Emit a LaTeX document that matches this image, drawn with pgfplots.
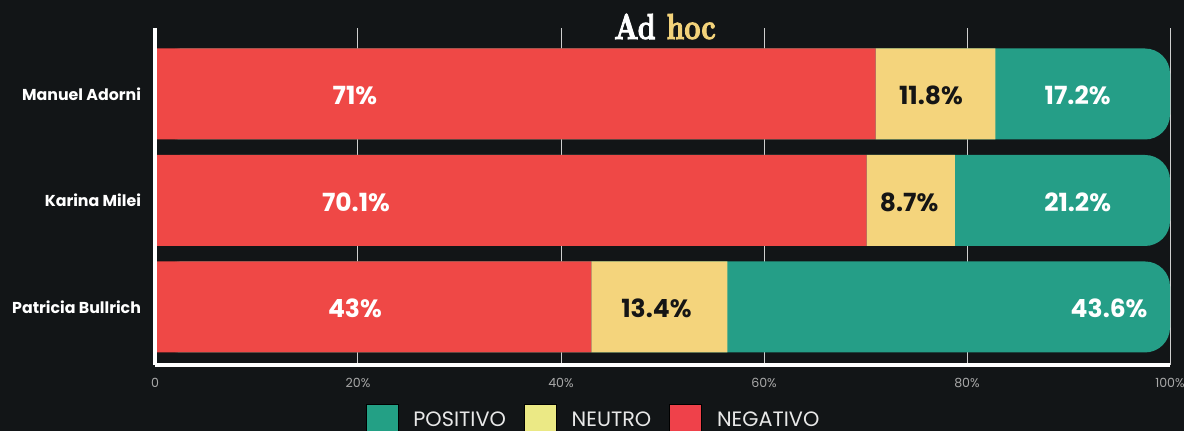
\documentclass[border=0pt]{standalone}
\usepackage{pgfplots}
\pgfplotsset{compat=1.18}
\usepackage{fontspec}
\setsansfont{Poppins}
\newfontfamily\titlefont[FakeBold=3]{lmroman10-bold.otf}
\usepackage{graphicx}
\definecolor{bg}{HTML}{121517}
\definecolor{neg}{HTML}{EF4846}
\definecolor{neu}{HTML}{F4D47C}
\definecolor{pos}{HTML}{259E87}
\definecolor{legpos}{HTML}{23A085}
\definecolor{legneu}{HTML}{EBE985}
\definecolor{legneg}{HTML}{EF414A}
\definecolor{gold}{HTML}{F2D27A}
\definecolor{tickgray}{HTML}{A8A8A8}
\definecolor{gridgray}{HTML}{CFCFCF}
\definecolor{darktext}{HTML}{151515}
\begin{document}
\begin{tikzpicture}
\fill[bg] (-77.5pt,-33pt) rectangle (514.5pt,182.5pt);
\pgfplotsset{
  common/.style={
    at={(0,0)}, anchor=south west, scale only axis,
    width=507.5pt, height=168.5pt,
    xmin=0, xmax=100, ymin=-0.545, ymax=2.62,
    bar width=45.5pt,
    axis x line*=bottom, axis y line*=left,
    axis line style={white, line width=2pt},
    major tick length=0pt,
  }
}
% background: grid, ticks, rounded positive bars, legend
\begin{axis}[common, xbar, bar shift=0pt,
   xmajorgrids, grid style={gridgray, line width=0.5pt},
   xtick={0,20,40,60,80,100},
   xticklabels={0,20\%,40\%,60\%,80\%,100\%},
   ytick={0,1,2},
   yticklabels={Patricia Bullrich, Karina Milei\hspace{2.5pt}, Manuel Adorni},
   xticklabel style={font=\sffamily\fontsize{6.3}{7}\selectfont, text=tickgray, yshift=-3pt},
   yticklabel style={font=\sffamily\bfseries\fontsize{7.9}{9}\selectfont, text=white, xshift=-3.5pt},
   legend columns=3,
   legend style={at={(0.433,-0.1157)}, anchor=north, draw=none, fill=none, inner sep=0pt,
      text=white!82!gray, font=\sffamily\fontsize{10.4}{11}\selectfont,
      /tikz/every odd column/.append style={column sep=5.5pt},
      /tikz/every even column/.append style={column sep=7pt}},
   legend image code/.code={\fill[#1] (0pt,-8pt) rectangle (16pt,8pt);},
]
\addplot[fill=pos, draw=none, rounded corners=12.5pt, forget plot] coordinates {(100,2) (100,1) (100,0)};
\addlegendimage{fill=legpos}
\addlegendentry{POSITIVO}
\addlegendimage{fill=legneu}
\addlegendentry{NEUTRO}
\addlegendimage{fill=legneg}
\addlegendentry{NEGATIVO}
\end{axis}
% foreground: stacked negative / neutral bars
\begin{axis}[common, xbar stacked, axis on top,
   xtick=\empty, ytick=\empty,
]
\addplot[fill=neg, draw=none] coordinates {(71,2) (70.1,1) (43,0)};
\addplot[fill=neu, draw=none] coordinates {(11.8,2) (8.7,1) (13.4,0)};
\addplot[fill=none, draw=none] coordinates {(17.2,2) (21.2,1) (43.6,0)};
\end{axis}
% value labels
\begin{axis}[common, hide axis,
   nodes near coords, point meta=explicit symbolic,
   every node near coord/.append style={anchor=center, yshift=-0.7pt,
      font=\sffamily\bfseries\fontsize{12.5}{14}\selectfont},
]
\addplot[draw=none, nodes near coords style={text=white}]
  coordinates {(19.7,2) [71\%] (19.8,1) [70.1\%] (19.7,0) [43\%]};
\addplot[draw=none, nodes near coords style={text=darktext}]
  coordinates {(76.45,2) [11.8\%] (74.3,1) [8.7\%] (49.4,0) [13.4\%]};
\addplot[draw=none, nodes near coords style={text=white}]
  coordinates {(90.9,2) [17.2\%] (90.9,1) [21.2\%] (94.0,0) [43.6\%]};
\end{axis}
\node[anchor=base, inner sep=0pt] at (255pt,163pt)
  {\scalebox{0.78}[1]{\titlefont\fontsize{18}{18}\selectfont\textcolor{white}{Ad} \textcolor{gold}{hoc}}};
\pgfresetboundingbox
\useasboundingbox (-77.5pt,-33pt) rectangle (514.5pt,182.5pt);
\end{tikzpicture}
\end{document}
